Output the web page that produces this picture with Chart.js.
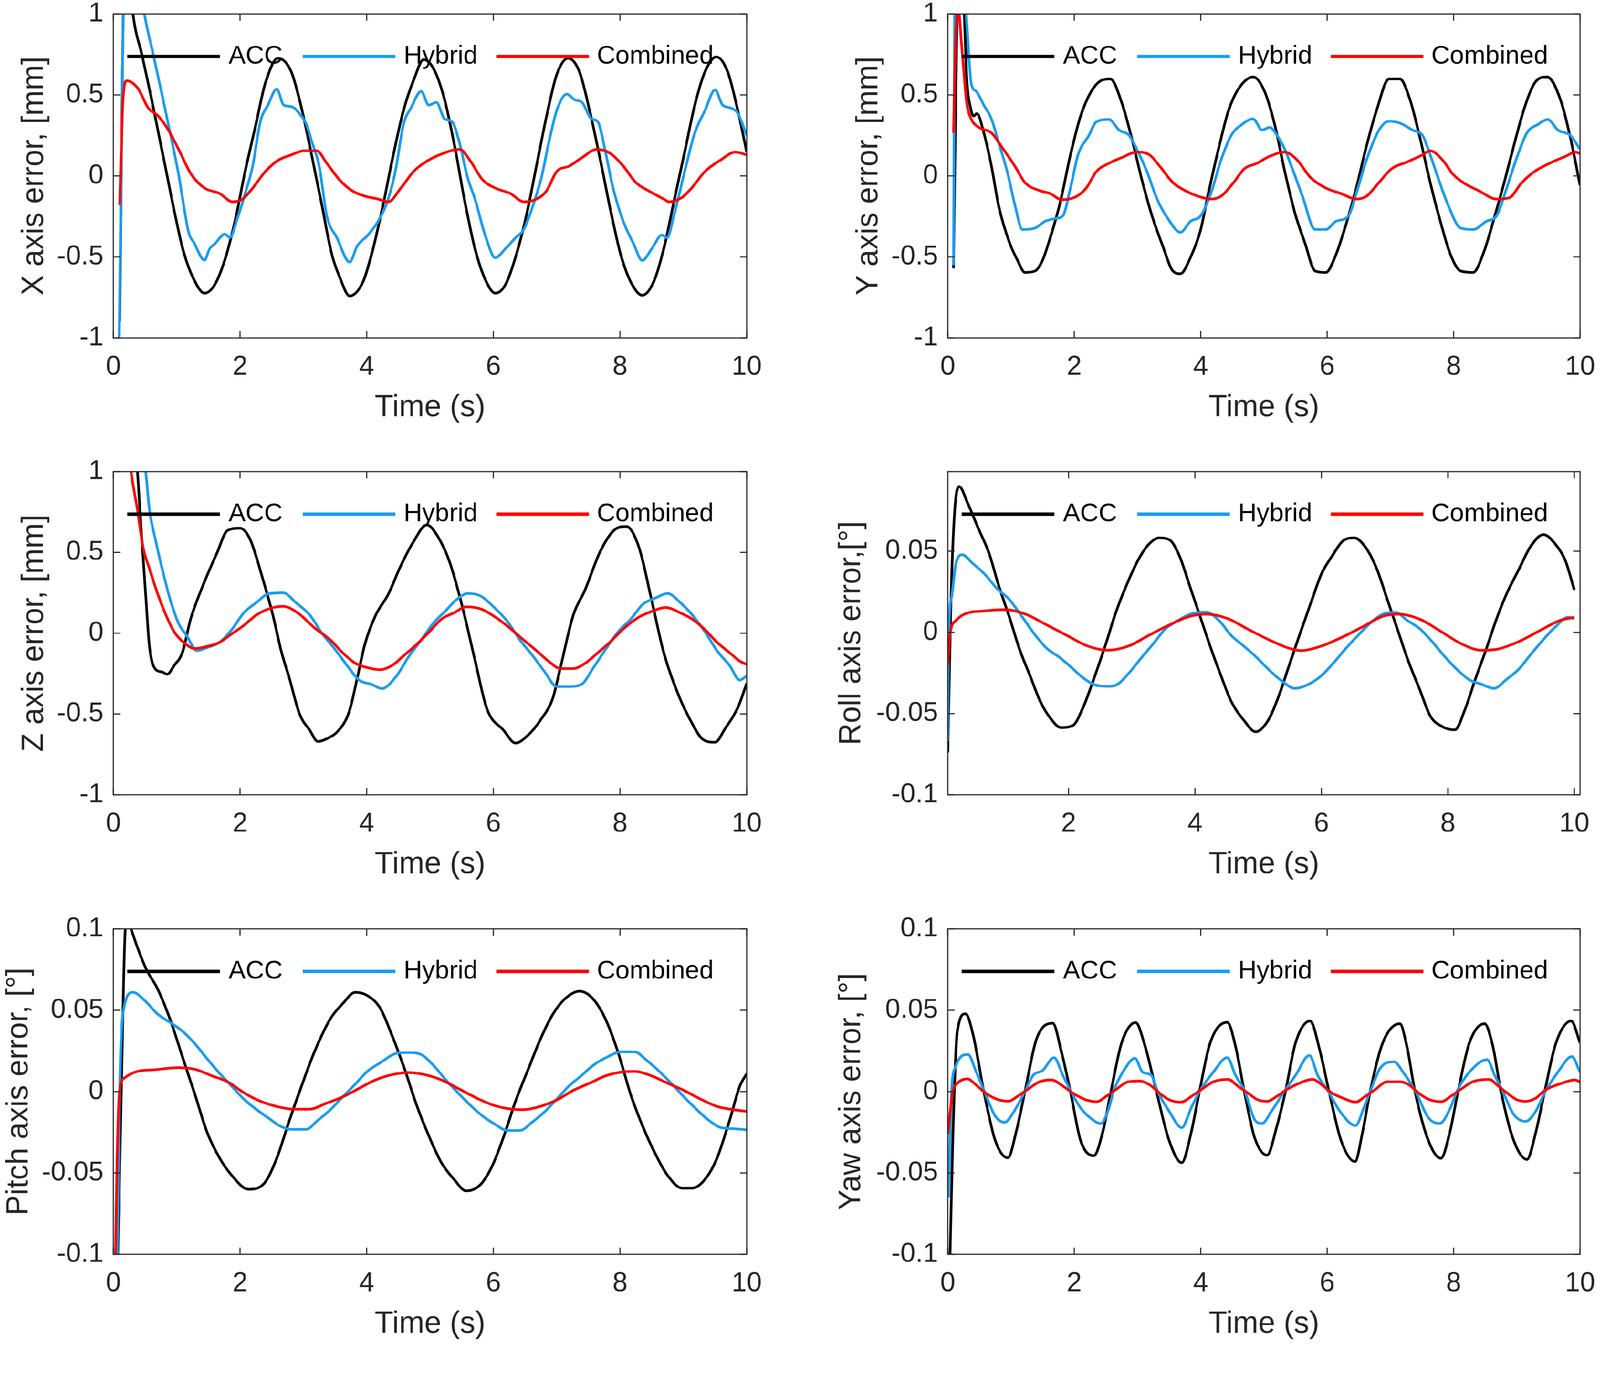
<!DOCTYPE html>
<html>
<head>
<meta charset="utf-8">
<script src="https://cdn.jsdelivr.net/npm/chart.js@4.4.0/dist/chart.umd.min.js"></script>
<style>
  html, body { margin: 0; padding: 0; background: #fff; overflow: hidden; }
  #page { position: absolute; left: 0; top: 0; width: 4249px; height: 3565px; overflow: hidden; transform-origin: 0 0; background: #fff; }
  canvas { position: absolute; }
</style>
</head>
<body>
<div id="page">
<canvas id="c0"></canvas><canvas id="c1"></canvas>
<canvas id="c2"></canvas><canvas id="c3"></canvas>
<canvas id="c4"></canvas><canvas id="c5"></canvas>
</div>
<script>
// series names and tick values
var SERIES = ['ACC', 'Hybrid', 'Combined'];
var X_TICKS = [0, 2, 4, 6, 8, 10];
var ROLL_X_TICKS = [2, 4, 6, 8, 10];
var MM_TICKS = [-1, -0.5, 0, 0.5, 1];
var DEG_TICKS = [-0.1, -0.05, 0, 0.05, 0.1];
var ROLL_Y_TICKS = [-0.1, -0.05, 0, 0.05];

// [time (s), error]
var xAcc = [[0.1,-0.9],[0.17,1.2],[0.24,1.3],[0.31,1.0],[0.45,0.75],[0.59,0.5],[0.72,0.25],[0.85,0.0],[0.98,-0.25],[1.11,-0.47],[1.27,-0.638],[1.44,-0.724],[1.6,-0.672],[1.76,-0.519],[1.92,-0.28],[2.08,0.027],[2.24,0.30],[2.4,0.573],[2.6,0.727],[2.81,0.642],[2.97,0.42],[3.13,0.13],[3.29,-0.177],[3.45,-0.485],[3.57,-0.621],[3.73,-0.741],[3.94,-0.655],[4.1,-0.45],[4.26,-0.177],[4.42,0.13],[4.58,0.403],[4.74,0.59],[4.9,0.718],[5.06,0.659],[5.23,0.471],[5.39,0.181],[5.55,-0.16],[5.71,-0.45],[5.87,-0.638],[6.03,-0.724],[6.19,-0.672],[6.35,-0.502],[6.52,-0.246],[6.68,0.061],[6.84,0.369],[7.0,0.625],[7.18,0.727],[7.36,0.642],[7.52,0.403],[7.69,0.096],[7.85,-0.212],[8.01,-0.485],[8.17,-0.655],[8.35,-0.737],[8.53,-0.655],[8.69,-0.45],[8.85,-0.16],[9.02,0.147],[9.18,0.437],[9.34,0.642],[9.52,0.735],[9.7,0.642],[9.86,0.403],[10.0,0.147]];
var xHyb = [[0.09,-1.1],[0.13,0.2],[0.16,1.1],[0.3,1.5],[0.49,1.0],[0.63,0.75],[0.77,0.5],[0.9,0.26],[1.03,0.01],[1.19,-0.35],[1.27,-0.41],[1.44,-0.52],[1.52,-0.45],[1.6,-0.42],[1.76,-0.36],[1.84,-0.38],[1.96,-0.26],[2.08,-0.11],[2.2,0.061],[2.32,0.334],[2.44,0.437],[2.58,0.536],[2.69,0.437],[2.81,0.428],[2.97,0.369],[3.05,0.317],[3.13,0.215],[3.25,0.061],[3.37,-0.246],[3.53,-0.382],[3.73,-0.532],[3.85,-0.433],[4.02,-0.365],[4.18,-0.28],[4.34,-0.143],[4.46,0.044],[4.58,0.317],[4.7,0.42],[4.86,0.522],[4.98,0.437],[5.1,0.454],[5.23,0.352],[5.35,0.334],[5.47,0.198],[5.59,-0.007],[5.71,-0.143],[5.87,-0.365],[6.03,-0.505],[6.19,-0.45],[6.35,-0.382],[6.48,-0.331],[6.6,-0.212],[6.76,-0.007],[6.88,0.215],[7.0,0.403],[7.16,0.505],[7.28,0.471],[7.4,0.454],[7.55,0.352],[7.65,0.334],[7.77,0.147],[7.89,-0.075],[8.05,-0.28],[8.21,-0.416],[8.35,-0.522],[8.5,-0.45],[8.66,-0.365],[8.74,-0.382],[8.86,-0.229],[9.02,0.027],[9.18,0.266],[9.34,0.403],[9.5,0.531],[9.62,0.437],[9.74,0.42],[9.86,0.386],[10.0,0.25]];
var xCom = [[0.1,-0.18],[0.15,0.45],[0.21,0.587],[0.39,0.539],[0.55,0.42],[0.71,0.369],[0.87,0.283],[1.03,0.164],[1.23,0.01],[1.44,-0.075],[1.68,-0.109],[1.88,-0.16],[2.04,-0.143],[2.2,-0.075],[2.4,0.027],[2.6,0.096],[2.81,0.13],[3.01,0.155],[3.21,0.155],[3.37,0.078],[3.57,-0.024],[3.77,-0.092],[3.98,-0.126],[4.18,-0.143],[4.34,-0.16],[4.54,-0.075],[4.74,0.027],[4.9,0.078],[5.15,0.13],[5.47,0.164],[5.63,0.096],[5.83,-0.024],[6.03,-0.075],[6.27,-0.109],[6.48,-0.16],[6.68,-0.143],[6.84,-0.092],[7.0,0.027],[7.2,0.061],[7.4,0.113],[7.63,0.164],[7.85,0.138],[8.05,0.061],[8.25,-0.041],[8.45,-0.092],[8.69,-0.143],[8.77,-0.16],[8.97,-0.135],[9.13,-0.075],[9.34,0.027],[9.58,0.096],[9.82,0.147],[10.0,0.13]];

var yAcc = [[0.09,-0.57],[0.12,0.3],[0.15,1.1],[0.2,1.3],[0.26,1.0],[0.3,0.6],[0.36,0.42],[0.41,0.37],[0.46,0.385],[0.57,0.266],[0.69,0.061],[0.81,-0.195],[0.98,-0.416],[1.1,-0.519],[1.22,-0.596],[1.38,-0.587],[1.5,-0.519],[1.62,-0.382],[1.78,-0.16],[1.94,0.13],[2.1,0.369],[2.27,0.522],[2.43,0.59],[2.57,0.599],[2.75,0.454],[2.91,0.232],[3.07,-0.024],[3.23,-0.246],[3.4,-0.433],[3.56,-0.587],[3.68,-0.604],[3.84,-0.502],[4.0,-0.331],[4.12,-0.109],[4.28,0.164],[4.44,0.403],[4.6,0.539],[4.83,0.611],[5.01,0.522],[5.17,0.317],[5.33,0.027],[5.49,-0.229],[5.65,-0.416],[5.81,-0.587],[5.98,-0.596],[6.14,-0.485],[6.3,-0.297],[6.46,-0.075],[6.62,0.181],[6.78,0.403],[6.98,0.599],[7.15,0.599],[7.31,0.471],[7.47,0.232],[7.63,-0.041],[7.79,-0.28],[7.95,-0.485],[8.11,-0.587],[8.31,-0.596],[8.48,-0.468],[8.64,-0.263],[8.8,-0.041],[8.96,0.198],[9.12,0.42],[9.28,0.573],[9.48,0.611],[9.69,0.471],[9.85,0.232],[10.0,-0.058]];
var yHyb = [[0.09,-0.55],[0.1,0.3],[0.11,1.2],[0.2,1.4],[0.29,1.0],[0.37,0.573],[0.45,0.522],[0.57,0.437],[0.69,0.352],[0.81,0.198],[0.94,0.027],[1.06,-0.177],[1.18,-0.331],[1.38,-0.322],[1.54,-0.28],[1.7,-0.263],[1.82,-0.246],[1.94,-0.075],[2.06,0.13],[2.23,0.249],[2.35,0.334],[2.55,0.348],[2.71,0.283],[2.87,0.249],[2.99,0.164],[3.15,0.027],[3.31,-0.143],[3.48,-0.263],[3.68,-0.348],[3.84,-0.28],[4.0,-0.246],[4.16,-0.109],[4.32,0.096],[4.48,0.249],[4.65,0.317],[4.83,0.352],[4.97,0.283],[5.09,0.3],[5.21,0.249],[5.33,0.164],[5.45,0.044],[5.61,-0.126],[5.81,-0.331],[5.98,-0.331],[6.14,-0.28],[6.34,-0.246],[6.46,-0.109],[6.62,0.096],[6.82,0.283],[6.98,0.338],[7.15,0.326],[7.35,0.283],[7.51,0.249],[7.63,0.13],[7.75,-0.007],[7.91,-0.177],[8.11,-0.322],[8.31,-0.331],[8.52,-0.28],[8.68,-0.246],[8.84,-0.075],[9.0,0.113],[9.16,0.266],[9.33,0.317],[9.49,0.348],[9.65,0.283],[9.85,0.249],[10.0,0.164]];
var yCom = [[0.09,0.266],[0.13,0.9],[0.17,1.02],[0.21,0.85],[0.25,0.659],[0.3,0.45],[0.37,0.352],[0.49,0.3],[0.69,0.266],[0.85,0.181],[1.06,0.061],[1.22,-0.041],[1.46,-0.092],[1.62,-0.109],[1.8,-0.147],[2.02,-0.13],[2.19,-0.075],[2.35,0.027],[2.55,0.078],[2.75,0.113],[2.99,0.147],[3.19,0.13],[3.35,0.061],[3.56,-0.041],[3.76,-0.092],[3.96,-0.126],[4.16,-0.143],[4.32,-0.126],[4.52,-0.041],[4.69,0.044],[4.89,0.078],[5.09,0.121],[5.33,0.147],[5.53,0.096],[5.73,-0.007],[5.98,-0.075],[6.22,-0.109],[6.46,-0.143],[6.62,-0.126],[6.82,-0.041],[7.02,0.044],[7.27,0.087],[7.51,0.13],[7.63,0.155],[7.83,0.096],[7.99,0.01],[8.15,-0.041],[8.4,-0.092],[8.68,-0.143],[8.88,-0.135],[9.08,-0.041],[9.28,0.027],[9.52,0.078],[9.77,0.121],[9.93,0.147],[10.0,0.138]];

var zAcc = [[0.1,1.5],[0.25,1.4],[0.38,1.0],[0.44,0.635],[0.51,0.24],[0.57,-0.08],[0.67,-0.225],[0.77,-0.24],[0.85,-0.254],[0.96,-0.2],[1.09,-0.12],[1.22,0.087],[1.42,0.30],[1.64,0.50],[1.8,0.635],[2.0,0.65],[2.16,0.58],[2.36,0.335],[2.52,0.11],[2.65,-0.11],[2.78,-0.28],[2.94,-0.5],[3.1,-0.6],[3.23,-0.67],[3.36,-0.655],[3.56,-0.6],[3.72,-0.49],[3.85,-0.28],[3.97,-0.07],[4.14,0.11],[4.34,0.24],[4.53,0.41],[4.73,0.56],[4.95,0.67],[5.12,0.6],[5.31,0.44],[5.5,0.18],[5.7,-0.15],[5.9,-0.47],[6.16,-0.6],[6.35,-0.68],[6.55,-0.63],[6.74,-0.54],[6.94,-0.4],[7.06,-0.21],[7.26,0.11],[7.45,0.27],[7.68,0.5],[7.9,0.635],[8.1,0.66],[8.3,0.53],[8.49,0.22],[8.69,-0.12],[8.92,-0.38],[9.14,-0.56],[9.3,-0.655],[9.5,-0.675],[9.66,-0.59],[9.86,-0.46],[10.0,-0.31]];
var zHyb = [[0.1,1.6],[0.3,1.4],[0.51,1.0],[0.57,0.765],[0.67,0.57],[0.77,0.40],[0.9,0.205],[1.03,0.061],[1.16,-0.017],[1.32,-0.108],[1.48,-0.089],[1.68,-0.056],[1.87,0.022],[2.06,0.126],[2.26,0.19],[2.45,0.244],[2.68,0.25],[2.88,0.19],[3.1,0.113],[3.3,-0.004],[3.49,-0.095],[3.69,-0.2],[3.88,-0.29],[4.08,-0.317],[4.24,-0.343],[4.47,-0.265],[4.66,-0.147],[4.86,-0.043],[5.05,0.061],[5.25,0.14],[5.41,0.205],[5.6,0.246],[5.8,0.23],[6.03,0.153],[6.22,0.074],[6.42,-0.043],[6.61,-0.134],[6.81,-0.239],[7.0,-0.33],[7.19,-0.33],[7.39,-0.317],[7.58,-0.213],[7.78,-0.095],[7.97,0.009],[8.17,0.087],[8.36,0.179],[8.56,0.218],[8.75,0.246],[8.95,0.19],[9.14,0.113],[9.34,0.009],[9.53,-0.108],[9.73,-0.2],[9.89,-0.29],[10.0,-0.265]];
var zCom = [[0.1,1.5],[0.2,1.3],[0.28,1.0],[0.38,0.765],[0.47,0.53],[0.57,0.40],[0.7,0.244],[0.83,0.113],[0.96,0.009],[1.09,-0.05],[1.29,-0.095],[1.48,-0.082],[1.68,-0.056],[1.87,-0.004],[2.06,0.048],[2.26,0.113],[2.49,0.155],[2.68,0.166],[2.91,0.126],[3.17,0.035],[3.43,-0.043],[3.62,-0.121],[3.82,-0.186],[4.01,-0.213],[4.21,-0.226],[4.4,-0.2],[4.6,-0.134],[4.79,-0.069],[4.99,0.009],[5.18,0.087],[5.38,0.126],[5.57,0.163],[5.8,0.15],[6.03,0.1],[6.25,0.035],[6.48,-0.043],[6.68,-0.108],[6.87,-0.173],[7.06,-0.219],[7.26,-0.219],[7.45,-0.186],[7.65,-0.121],[7.84,-0.056],[8.04,0.022],[8.3,0.1],[8.49,0.133],[8.72,0.159],[8.95,0.126],[9.14,0.087],[9.34,0.022],[9.53,-0.056],[9.73,-0.121],[9.89,-0.173],[10.0,-0.193]];

var rollAcc = [[0.09,-0.074],[0.14,0.02],[0.2,0.075],[0.27,0.0898],[0.41,0.079],[0.58,0.0634],[0.74,0.049],[0.9,0.0282],[1.06,0.0099],[1.23,-0.011],[1.39,-0.0266],[1.55,-0.0423],[1.71,-0.0527],[1.88,-0.0586],[2.07,-0.0573],[2.23,-0.0462],[2.43,-0.0253],[2.59,-0.007],[2.75,0.0125],[2.95,0.0321],[3.11,0.0452],[3.27,0.0543],[3.43,0.0582],[3.6,0.0569],[3.76,0.0465],[3.92,0.0282],[4.08,0.0099],[4.25,-0.0097],[4.41,-0.0266],[4.57,-0.0423],[4.77,-0.054],[4.96,-0.0612],[5.16,-0.054],[5.32,-0.0397],[5.48,-0.0214],[5.64,-0.0031],[5.84,0.019],[6.0,0.036],[6.16,0.0465],[6.36,0.0569],[6.52,0.0582],[6.71,0.0517],[6.88,0.0386],[7.04,0.0204],[7.2,0.0021],[7.36,-0.0162],[7.56,-0.0358],[7.72,-0.0514],[7.91,-0.058],[8.11,-0.06],[8.27,-0.0475],[8.43,-0.0292],[8.6,-0.011],[8.76,0.0073],[8.92,0.023],[9.12,0.0386],[9.31,0.053],[9.51,0.0602],[9.7,0.0543],[9.86,0.0439],[10.0,0.0262]];
var rollHyb = [[0.09,-0.067],[0.1,-0.01],[0.155,0.023],[0.22,0.0426],[0.32,0.0478],[0.48,0.0426],[0.67,0.036],[0.87,0.0269],[1.06,0.0204],[1.26,0.0099],[1.45,-0.0005],[1.65,-0.0097],[1.84,-0.0149],[2.04,-0.0214],[2.23,-0.028],[2.43,-0.0325],[2.62,-0.0332],[2.75,-0.0325],[2.95,-0.0253],[3.14,-0.0162],[3.34,-0.007],[3.53,0.0021],[3.73,0.0073],[3.92,0.0112],[4.18,0.0125],[4.38,0.0073],[4.57,-0.0018],[4.77,-0.0084],[4.96,-0.0149],[5.16,-0.0227],[5.35,-0.0292],[5.58,-0.0345],[5.8,-0.0319],[6.0,-0.0266],[6.19,-0.0188],[6.39,-0.0097],[6.58,-0.0018],[6.78,0.006],[6.97,0.0112],[7.17,0.0123],[7.36,0.0073],[7.56,0.0021],[7.75,-0.0057],[7.95,-0.0149],[8.14,-0.0227],[8.34,-0.0292],[8.53,-0.0319],[8.73,-0.0345],[8.92,-0.0292],[9.12,-0.0227],[9.31,-0.0136],[9.51,-0.0044],[9.7,0.0034],[9.9,0.0093],[10.0,0.0084]];
var rollCom = [[0.09,-0.02],[0.13,0.0],[0.22,0.0073],[0.35,0.0112],[0.67,0.0132],[1.0,0.014],[1.32,0.0112],[1.65,0.0047],[1.97,-0.0018],[2.3,-0.0084],[2.62,-0.011],[2.95,-0.0084],[3.27,-0.0018],[3.6,0.0047],[3.92,0.0099],[4.18,0.0112],[4.51,0.0086],[4.83,0.0021],[5.16,-0.0044],[5.48,-0.0097],[5.67,-0.0112],[6.0,-0.0084],[6.32,-0.0031],[6.65,0.0034],[6.97,0.0099],[7.23,0.0112],[7.56,0.008],[7.88,0.0008],[8.21,-0.007],[8.53,-0.011],[8.79,-0.0103],[9.12,-0.0057],[9.44,0.0008],[9.77,0.0073],[10.0,0.0093]];

var pitchAcc = [[0.06,-0.12],[0.12,-0.01],[0.19,0.1],[0.235,0.106],[0.28,0.1],[0.51,0.076],[0.7,0.063],[0.9,0.044],[1.09,0.0215],[1.29,-0.002],[1.48,-0.025],[1.68,-0.041],[1.87,-0.0515],[2.13,-0.06],[2.39,-0.056],[2.58,-0.041],[2.78,-0.0176],[2.97,0.0033],[3.17,0.024],[3.43,0.045],[3.62,0.054],[3.82,0.061],[4.01,0.059],[4.21,0.0515],[4.4,0.0345],[4.6,0.0137],[4.79,-0.0085],[4.99,-0.028],[5.18,-0.0437],[5.38,-0.054],[5.57,-0.061],[5.8,-0.057],[5.99,-0.045],[6.16,-0.028],[6.35,-0.0059],[6.55,0.0137],[6.74,0.032],[6.94,0.0476],[7.13,0.057],[7.36,0.0617],[7.58,0.0567],[7.78,0.0437],[7.97,0.024],[8.17,-0.002],[8.36,-0.0215],[8.56,-0.0385],[8.75,-0.0515],[8.98,-0.0593],[9.14,-0.0593],[9.34,-0.054],[9.53,-0.041],[9.73,-0.0176],[9.89,0.0033],[10.0,0.011]];
var pitchHyb = [[0.06,-0.11],[0.1,0.0],[0.15,0.0476],[0.31,0.061],[0.51,0.0554],[0.7,0.0476],[0.9,0.0424],[1.09,0.0372],[1.29,0.0293],[1.48,0.0202],[1.68,0.0111],[1.87,0.0033],[2.06,-0.0046],[2.26,-0.011],[2.45,-0.0163],[2.65,-0.0215],[2.81,-0.0232],[3.04,-0.0232],[3.23,-0.0176],[3.43,-0.011],[3.62,-0.0033],[3.82,0.0046],[4.01,0.0124],[4.21,0.0176],[4.47,0.0235],[4.66,0.024],[4.86,0.0228],[5.05,0.0163],[5.25,0.0072],[5.44,-0.0007],[5.64,-0.0085],[5.83,-0.015],[6.03,-0.0202],[6.22,-0.0239],[6.42,-0.0239],[6.61,-0.0189],[6.81,-0.0124],[7.0,-0.0046],[7.19,0.0033],[7.39,0.0098],[7.58,0.0163],[7.81,0.0215],[8.01,0.0244],[8.23,0.0244],[8.43,0.0189],[8.62,0.0124],[8.82,0.0046],[9.01,-0.0033],[9.21,-0.011],[9.4,-0.0176],[9.6,-0.0222],[9.79,-0.0228],[10.0,-0.0235]];
var pitchCom = [[0.03,-0.11],[0.06,-0.04],[0.1,0.0007],[0.18,0.0085],[0.38,0.0124],[0.64,0.0134],[1.03,0.0147],[1.29,0.0137],[1.55,0.0098],[1.81,0.0059],[2.06,-0.0007],[2.32,-0.0059],[2.58,-0.0091],[2.84,-0.0108],[3.1,-0.0108],[3.36,-0.0072],[3.62,-0.0033],[3.88,0.002],[4.14,0.0072],[4.4,0.0104],[4.66,0.0117],[4.92,0.0104],[5.18,0.0072],[5.44,0.002],[5.7,-0.0033],[5.96,-0.0078],[6.22,-0.0104],[6.48,-0.0111],[6.74,-0.0091],[7.0,-0.0052],[7.26,0.0007],[7.52,0.0052],[7.78,0.0098],[8.04,0.0121],[8.23,0.0124],[8.49,0.0098],[8.75,0.0052],[9.01,0.0007],[9.27,-0.0046],[9.53,-0.0091],[9.79,-0.0111],[10.0,-0.0121]];

var yawAcc = [[0.03,-0.11],[0.08,-0.028],[0.15,0.037],[0.28,0.0478],[0.4,0.035],[0.57,0],[0.75,-0.03],[0.95,-0.0407],[1.08,-0.025],[1.22,0],[1.4,0.032],[1.66,0.042],[1.8,0.024],[1.94,0],[2.1,-0.03],[2.31,-0.0394],[2.45,-0.025],[2.58,0],[2.75,0.03],[2.97,0.0424],[3.12,0.028],[3.3,0],[3.5,-0.03],[3.7,-0.0437],[3.85,-0.025],[3.98,0],[4.15,0.03],[4.42,0.0426],[4.55,0.028],[4.69,0],[4.85,-0.028],[5.05,-0.0391],[5.2,-0.022],[5.34,0],[5.5,0.03],[5.73,0.0434],[5.88,0.026],[6.03,0],[6.22,-0.03],[6.44,-0.043],[6.56,-0.025],[6.68,0],[6.88,0.03],[7.15,0.0417],[7.26,0.028],[7.39,0],[7.6,-0.03],[7.8,-0.041],[7.94,-0.025],[8.07,0],[8.25,0.03],[8.49,0.0417],[8.62,0.028],[8.75,0],[8.95,-0.03],[9.16,-0.0417],[9.3,-0.025],[9.44,0],[9.62,0.03],[9.86,0.0434],[10.0,0.03]];
var yawHyb = [[0.01,-0.065],[0.06,0.0],[0.12,0.015],[0.32,0.0228],[0.45,0.012],[0.58,0],[0.75,-0.015],[0.9,-0.0189],[1.05,-0.012],[1.22,0],[1.35,0.01],[1.5,0.013],[1.68,0.0209],[1.82,0.01],[1.95,0],[2.1,-0.01],[2.25,-0.016],[2.42,-0.0196],[2.55,-0.01],[2.62,0],[2.8,0.014],[2.96,0.0205],[3.08,0.012],[3.22,0.01],[3.32,0],[3.5,-0.012],[3.7,-0.0222],[3.85,-0.01],[3.98,0],[4.2,0.012],[4.42,0.0209],[4.55,0.01],[4.7,0],[4.85,-0.017],[4.97,-0.0196],[5.12,-0.012],[5.32,0],[5.5,0.01],[5.72,0.0222],[5.85,0.01],[6.02,0],[6.2,-0.012],[6.45,-0.0209],[6.58,-0.01],[6.68,0],[6.85,0.015],[7.06,0.0183],[7.2,0.012],[7.4,0],[7.6,-0.016],[7.78,-0.0196],[7.95,-0.01],[8.05,0],[8.25,0.012],[8.53,0.0196],[8.65,0.01],[8.78,0],[8.95,-0.014],[9.14,-0.0183],[9.3,-0.012],[9.45,0],[9.65,0.012],[9.87,0.0215],[10.0,0.012]];
var yawCom = [[0.0,-0.026],[0.08,0],[0.15,0.005],[0.31,0.0078],[0.45,0.004],[0.6,-0.001],[0.8,-0.005],[0.96,-0.0059],[1.1,-0.003],[1.25,0.001],[1.45,0.006],[1.64,0.0072],[1.8,0.004],[1.98,-0.001],[2.18,-0.005],[2.36,-0.0062],[2.5,-0.003],[2.65,0.001],[2.85,0.006],[3.04,0.0065],[3.2,0.004],[3.35,-0.001],[3.5,-0.005],[3.69,-0.0065],[3.85,-0.003],[4.0,0.001],[4.2,0.006],[4.43,0.0075],[4.6,0.003],[4.75,-0.001],[4.9,-0.005],[5.05,-0.006],[5.2,-0.003],[5.35,0.001],[5.55,0.005],[5.77,0.0075],[5.92,0.004],[6.08,-0.001],[6.25,-0.004],[6.45,-0.0065],[6.6,-0.003],[6.75,0.001],[6.95,0.006],[7.16,0.006],[7.3,0.004],[7.45,-0.001],[7.62,-0.005],[7.81,-0.0062],[7.95,-0.003],[8.1,0.001],[8.3,0.006],[8.56,0.0075],[8.72,0.003],[8.85,-0.001],[9.0,-0.005],[9.14,-0.006],[9.3,-0.004],[9.45,0.001],[9.7,0.005],[9.92,0.0072],[10.0,0.0058]];

// ---- layout / style (figure pixels, 4249 x 3565) ----
var FIG_W = 4249;
var FONT = '"Liberation Sans", Arial, sans-serif';
var COLORS = ['#000000', '#1b9cf0', '#ff0000'];
var COLS = [{left: 0, plotLeft: 301, plotRight: 1983}, {left: 2140, plotLeft: 2517, plotRight: 4196}];
var ROWS = [{plotTop: 37, plotBottom: 897}, {plotTop: 1252, plotBottom: 2110}, {plotTop: 2466, plotBottom: 3330}];
var PAD_TOP = 100, PAD_RIGHT = 100, XAXIS_H = 240, TICK = 18;
var LEG_LINE = [37, 503, 1017], LEG_TEXT = [306, 771, 1284], LEG_LEN = 246, LEG_Y = 113;

// the viewport may be narrower than the figure; fit the figure to it
var fit = Math.min(1, window.innerWidth / FIG_W);
document.getElementById('page').style.transform = 'scale(' + fit + ')';

var panels = [
  {col: 0, row: 0, title: 'X axis error, [mm]', series: [xAcc, xHyb, xCom], xmin: 0, xmax: 10, xticks: X_TICKS, ymin: -1, ymax: 1, yticks: MM_TICKS, titleX: 92},
  {col: 1, row: 0, title: 'Y axis error, [mm]', series: [yAcc, yHyb, yCom], xmin: 0, xmax: 10, xticks: X_TICKS, ymin: -1, ymax: 1, yticks: MM_TICKS, titleX: 2308},
  {col: 0, row: 1, title: 'Z axis error, [mm]', series: [zAcc, zHyb, zCom], xmin: 0, xmax: 10, xticks: X_TICKS, ymin: -1, ymax: 1, yticks: MM_TICKS, titleX: 92},
  {col: 1, row: 1, title: 'Roll axis error,[°]', series: [rollAcc, rollHyb, rollCom], xmin: 0.09, xmax: 10.09, xticks: ROLL_X_TICKS, ymin: -0.1, ymax: 0.099, yticks: ROLL_Y_TICKS, titleX: 2262},
  {col: 0, row: 2, title: 'Pitch axis error, [°]', series: [pitchAcc, pitchHyb, pitchCom], xmin: 0, xmax: 10, xticks: X_TICKS, ymin: -0.1, ymax: 0.1, yticks: DEG_TICKS, titleX: 51},
  {col: 1, row: 2, title: 'Yaw axis error, [°]', series: [yawAcc, yawHyb, yawCom], xmin: 0, xmax: 10, xticks: X_TICKS, ymin: -0.1, ymax: 0.1, yticks: DEG_TICKS, titleX: 2262}
];

// box, inward ticks and in-axes legend
var boxPlugin = {
  id: 'box',
  afterDraw: function(chart) {
    var a = chart.chartArea, ctx = chart.ctx;
    var sx = chart.scales.x, sy = chart.scales.y;
    ctx.save();
    ctx.strokeStyle = '#262626';
    ctx.lineWidth = 3;
    ctx.beginPath();
    sx.ticks.forEach(function(t) {
      var p = sx.getPixelForValue(t.value);
      ctx.moveTo(p, a.bottom); ctx.lineTo(p, a.bottom - TICK);
      ctx.moveTo(p, a.top); ctx.lineTo(p, a.top + TICK);
    });
    sy.ticks.forEach(function(t) {
      var p = sy.getPixelForValue(t.value);
      ctx.moveTo(a.left, p); ctx.lineTo(a.left + TICK, p);
      ctx.moveTo(a.right, p); ctx.lineTo(a.right - TICK, p);
    });
    ctx.stroke();
    ctx.strokeRect(a.left, a.top, a.right - a.left, a.bottom - a.top);

    var ly = a.top + LEG_Y;
    ctx.font = '68px ' + FONT;
    ctx.textBaseline = 'middle';
    ctx.textAlign = 'left';
    chart.data.datasets.forEach(function(ds, i) {
      ctx.strokeStyle = ds.borderColor;
      ctx.lineWidth = 9;
      ctx.beginPath();
      ctx.moveTo(a.left + LEG_LINE[i], ly);
      ctx.lineTo(a.left + LEG_LINE[i] + LEG_LEN, ly);
      ctx.stroke();
      ctx.fillStyle = '#000';
      ctx.fillText(ds.label, a.left + LEG_TEXT[i], ly);
    });
    ctx.restore();
  }
};

function toPoints(arr) {
  return arr.map(function(p) { return {x: p[0], y: p[1]}; });
}

function tickText(v) { return String(v); }

panels.forEach(function(pn, k) {
  var col = COLS[pn.col], row = ROWS[pn.row];
  var cv = document.getElementById('c' + k);
  var w = col.plotRight + PAD_RIGHT - col.left;
  var h = row.plotBottom - row.plotTop + PAD_TOP + XAXIS_H;
  cv.width = w; cv.height = h;
  cv.style.left = col.left + 'px';
  cv.style.top = (row.plotTop - PAD_TOP) + 'px';
  var yw = col.plotLeft - col.left;

  new Chart(cv.getContext('2d'), {
    type: 'line',
    data: {
      datasets: pn.series.map(function(s, i) {
        return {
          label: SERIES[i],
          data: toPoints(s),
          borderColor: COLORS[i],
          backgroundColor: COLORS[i],
          borderWidth: 7,
          pointRadius: 0,
          fill: false,
          cubicInterpolationMode: 'monotone',
          borderJoinStyle: 'round',
          order: 3 - i
        };
      })
    },
    options: {
      responsive: false,
      devicePixelRatio: 1,
      animation: false,
      events: [],
      layout: {padding: {top: PAD_TOP, right: PAD_RIGHT, left: 0, bottom: 0}},
      plugins: {legend: {display: false}, tooltip: {enabled: false}},
      scales: {
        x: {
          type: 'linear', min: pn.xmin, max: pn.xmax,
          afterBuildTicks: function(s) { s.ticks = pn.xticks.map(function(v) { return {value: v}; }); },
          afterFit: function(s) { s.height = XAXIS_H; },
          grid: {display: false, drawTicks: false},
          border: {display: false},
          ticks: {autoSkip: false, maxRotation: 0, padding: 42, color: '#262626',
                  font: {family: FONT, size: 72, lineHeight: 1}, callback: tickText},
          title: {display: true, text: 'Time (s)', color: '#262626',
                  font: {family: FONT, size: 81, lineHeight: 1}, padding: {top: 0, bottom: 14}}
        },
        y: {
          type: 'linear', min: pn.ymin, max: pn.ymax,
          afterBuildTicks: function(s) { s.ticks = pn.yticks.map(function(v) { return {value: v}; }); },
          afterFit: function(s) { s.width = yw; },
          grid: {display: false, drawTicks: false},
          border: {display: false},
          ticks: {autoSkip: false, padding: 26, color: '#262626',
                  font: {family: FONT, size: 72, lineHeight: 1}, callback: tickText},
          title: {display: true, text: pn.title, color: '#262626',
                  font: {family: FONT, size: 81, lineHeight: 1},
                  padding: {top: pn.titleX - col.left - 40.5, bottom: 0}}
        }
      }
    },
    plugins: [boxPlugin]
  });
});
</script>
</body>
</html>
